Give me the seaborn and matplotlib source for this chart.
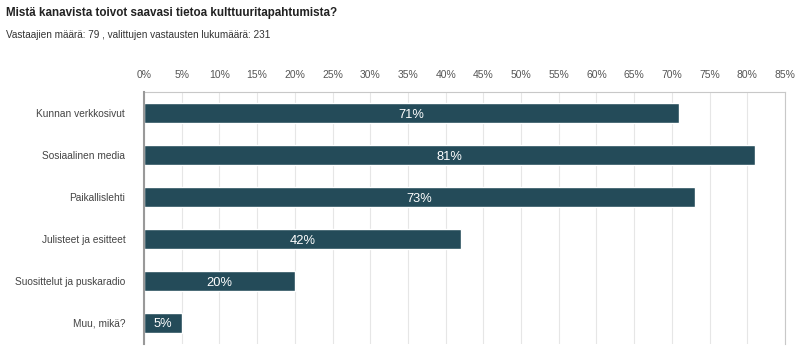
import matplotlib
matplotlib.use("Agg")
import matplotlib.pyplot as plt
import seaborn as sns
import pandas as pd
from matplotlib.ticker import MultipleLocator, FuncFormatter

categories = ["Kunnan verkkosivut", "Sosiaalinen media", "Paikallislehti",
              "Julisteet ja esitteet", "Suosittelut ja puskaradio", "Muu, mikä?"]
percent = [71, 81, 73, 42, 20, 5]
bar_labels = ["71%", "81%", "73%", "42%", "20%", "5%"]

df = pd.DataFrame({"cat": categories, "pct": percent})

sns.set_theme(style="white")
plt.rcParams["font.family"] = ["Liberation Sans", "DejaVu Sans"]

fig = plt.figure(figsize=(8, 3.55), dpi=100)
ax = fig.add_axes([0.18, 0.031, 0.80125, 0.7098])

sns.barplot(data=df, x="pct", y="cat", color="#244b59", saturation=1,
            width=0.48, ax=ax, zorder=3)

ax.set_xlim(0, 85)
ax.set_ylim(5.5, -0.5)
ax.xaxis.set_major_locator(MultipleLocator(5))
ax.xaxis.set_major_formatter(FuncFormatter(lambda v, p: f"{int(round(v))}%"))
ax.xaxis.tick_top()
ax.tick_params(axis="x", length=0, pad=8.5, labelsize=7.5, labelcolor="#555555")
ax.tick_params(axis="y", length=0, pad=13.5, labelsize=7.3, labelcolor="#444444")
ax.set_xlabel("")
ax.set_ylabel("")
ax.grid(axis="x", color="#e6e6e6", linewidth=0.8, zorder=0)
ax.grid(axis="y", visible=False)

for side in ["top", "right"]:
    ax.spines[side].set_color("#c8c8c8")
    ax.spines[side].set_linewidth(0.8)
ax.spines["bottom"].set_visible(False)
ax.spines["left"].set_color("#999999")
ax.spines["left"].set_linewidth(1.5)
ax.spines["left"].set_zorder(5)

for i, (p, lab) in enumerate(zip(percent, bar_labels)):
    ax.text(p / 2, i, lab, ha="center", va="center_baseline", color="white",
            fontsize=9.3, zorder=4)

fig.text(6 / 800, 1 - 13 / 355, "Mistä kanavista toivot saavasi tietoa kulttuuritapahtumista?",
         fontsize=8.35, fontweight="bold", color="#222222", ha="left", va="center")
fig.text(6 / 800, 1 - 35 / 355, "Vastaajien määrä: 79 , valittujen vastausten lukumäärä: 231",
         fontsize=7.2, color="#333333", ha="left", va="center")

fig.savefig("out.png", dpi=100)
